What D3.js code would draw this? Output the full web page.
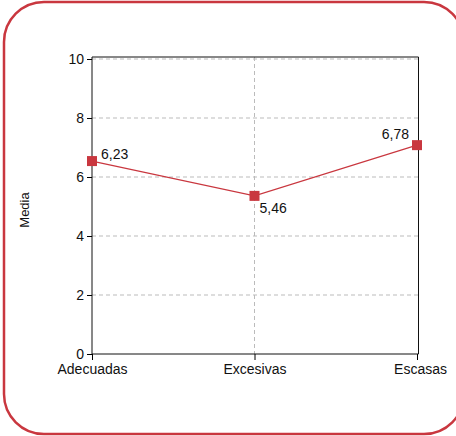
<!DOCTYPE html>
<html><head><meta charset="utf-8">
<script src="https://cdn.jsdelivr.net/npm/d3@7"></script>
<style>
html,body{margin:0;padding:0;background:#fff;}
svg{display:block;font-family:"Liberation Sans",Arial,Helvetica,sans-serif;}
</style></head>
<body><svg id="c" width="456" height="436"></svg>
<script>
const categories = ["Adecuadas", "Excesivas", "Escasas"];
const values = [6.54, 5.36, 7.08];
const valueLabels = ["6,23", "5,46", "6,78"];
const yTicks = [0, 2, 4, 6, 8, 10];
const yTitle = "Media";

(function(){
const red = "#c9373f";
const svg = d3.select("#c");

svg.append("rect").attr("x", 4).attr("y", 2).attr("width", 460).attr("height", 432)
  .attr("rx", 40).attr("ry", 40).attr("fill", "#fff").attr("stroke", red).attr("stroke-width", 2.5);

const pL = 92, pR = 417, pT = 57, pB = 354;
const x = d3.scalePoint().domain(categories).range([pL, pR]);
const y = d3.scaleLinear().domain([0, 10]).range([pB, 59]);

svg.append("g").selectAll("line").data(yTicks.filter(d => d > 0)).join("line")
  .attr("x1", pL).attr("x2", 418).attr("y1", d => y(d)).attr("y2", d => y(d))
  .attr("stroke", "#bbb").attr("stroke-width", 1).attr("stroke-dasharray", "4,3");
svg.append("line").attr("x1", x(categories[1])).attr("x2", x(categories[1]))
  .attr("y1", pT).attr("y2", pB).attr("stroke", "#bbb").attr("stroke-dasharray", "4,3");

svg.append("path").attr("d", `M${pL},${pT}H418.5V${pB}`).attr("fill", "none").attr("stroke", "#111").attr("stroke-width", 1);

const yAxis = svg.append("g").attr("transform", `translate(${pL},0)`)
  .call(d3.axisLeft(y).tickValues(yTicks).tickSize(5).tickPadding(3));
yAxis.select(".domain").attr("d", `M0,${pT}V${pB}`).attr("stroke", "#111");
yAxis.selectAll("text").attr("font-size", 14).attr("fill", "#111").attr("font-family", "Liberation Sans, Arial, sans-serif");

const xAxis = svg.append("g").attr("transform", `translate(0,${pB})`)
  .call(d3.axisBottom(x).tickSize(6).tickPadding(4).tickSizeOuter(0));
xAxis.select(".domain").attr("d", `M${pL},0H418.5`).attr("stroke", "#111");
xAxis.selectAll("text").attr("font-size", 14).attr("fill", "#111").attr("font-family", "Liberation Sans, Arial, sans-serif");
xAxis.selectAll(".tick text").attr("dx", (d, i) => i === 2 ? 3 : 0);

svg.append("text").attr("transform", "translate(29,210) rotate(-90)")
  .attr("text-anchor", "middle").attr("font-size", 13).attr("fill", "#111").text(yTitle);

const data = categories.map((c, i) => ({c, v: values[i], l: valueLabels[i]}));
svg.append("path").datum(data)
  .attr("d", d3.line().x(d => x(d.c)).y(d => y(d.v)))
  .attr("fill", "none").attr("stroke", red).attr("stroke-width", 1.2);
svg.append("g").selectAll("rect").data(data).join("rect")
  .attr("x", d => x(d.c) - 5).attr("y", d => y(d.v) - 5).attr("width", 10).attr("height", 10)
  .attr("fill", red);

const lblOff = [[9, -2], [5, 17], [-8, -6]];
const anchors = ["start", "start", "end"];
svg.append("g").selectAll("text").data(data).join("text")
  .attr("x", (d, i) => x(d.c) + lblOff[i][0]).attr("y", (d, i) => y(d.v) + lblOff[i][1])
  .attr("text-anchor", (d, i) => anchors[i]).attr("font-size", 14).attr("fill", "#111").text(d => d.l);
})();
</script></body></html>
